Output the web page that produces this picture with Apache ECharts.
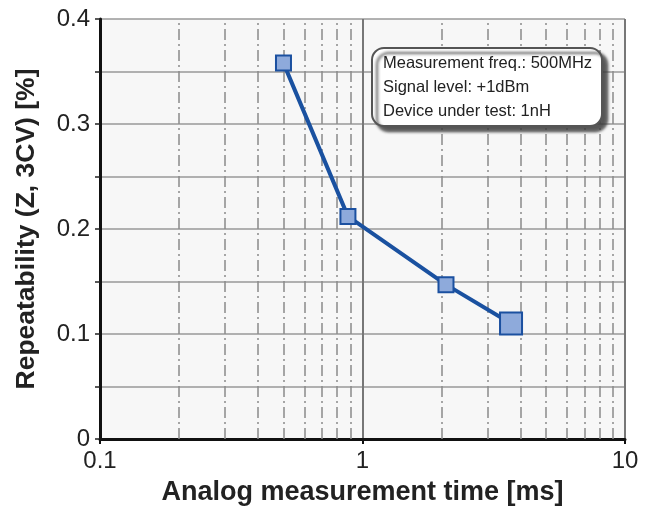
<!DOCTYPE html>
<html>
<head>
<meta charset="utf-8">
<script src="https://cdn.jsdelivr.net/npm/echarts@6/dist/echarts.min.js"></script>
<style>
  html, body { margin: 0; padding: 0; background: #fff; }
  #chart { width: 649px; height: 511px; }
</style>
</head>
<body>
<div id="chart"></div>
<script>
// measurement time [ms] vs repeatability [%]
const timeMs = [0.5, 0.88, 2.08, 3.68];
const repeatability = [0.358, 0.212, 0.147, 0.110];
const markerSizes = [15, 15, 15, 22];
// dash-dot minor grid positions on log axis
const minorX = [0.2, 0.3, 0.4, 0.5, 0.6, 0.7, 0.8, 0.9, 2, 3, 4, 5, 6, 7, 8, 9];
const noteLines = ['Measurement freq.: 500MHz', 'Signal level: +1dBm', 'Device under test: 1nH'];

const font = "'Liberation Sans', Arial, sans-serif";
const chart = echarts.init(document.getElementById('chart'));

const option = {
  animation: false,
  grid: { left: 100, right: 24, top: 19, bottom: 72, show: true, backgroundColor: '#f7f7f7', borderWidth: 0 },
  xAxis: {
    type: 'log',
    logBase: 10,
    min: 0.1,
    max: 10,
    name: 'Analog measurement time [ms]',
    nameLocation: 'middle',
    nameGap: 40,
    nameTextStyle: { fontFamily: font, fontSize: 27, fontWeight: 'bold', color: '#222' },
    axisLine: { show: true, onZero: false, lineStyle: { color: '#111', width: 3 } },
    axisTick: { show: true, length: 5, lineStyle: { color: '#111', width: 2 } },
    axisLabel: { fontFamily: font, fontSize: 24, color: '#222', margin: 10 },
    splitLine: { show: true, lineStyle: { color: '#777', width: 2 } }
  },
  yAxis: {
    type: 'value',
    min: 0,
    max: 0.4,
    interval: 0.05,
    name: 'Repeatability (Z, 3CV) [%]',
    nameLocation: 'middle',
    nameGap: 60,
    nameTextStyle: { fontFamily: font, fontSize: 26.5, fontWeight: 'bold', color: '#222' },
    axisLine: { show: true, lineStyle: { color: '#111', width: 3 } },
    axisTick: { show: true, length: 5, lineStyle: { color: '#222', width: 1.5 } },
    axisLabel: {
      fontFamily: font, fontSize: 24, color: '#222', margin: 10,
      formatter: function (v) {
        const r = Math.round(v * 100);
        if (r % 10 !== 0) return '';
        return r === 0 ? '0' : (r / 100).toString();
      }
    },
    splitLine: { show: true, lineStyle: { color: '#999', width: 1.5 } }
  },
  series: [
    {
      type: 'line',
      data: [],
      silent: true,
      markLine: {
        silent: true,
        symbol: ['none', 'none'],
        label: { show: false },
        lineStyle: { color: '#8a8a8a', width: 1.5, type: [11, 4, 2, 4] },
        data: minorX.map(v => ({ xAxis: v }))
      }
    },
    {
      type: 'line',
      data: timeMs.map((t, i) => [t, repeatability[i]]),
      symbol: 'rect',
      symbolSize: (val, p) => markerSizes[p.dataIndex],
      lineStyle: { color: '#1a51a0', width: 4 },
      itemStyle: { color: '#8eaadb', borderColor: '#1b50a0', borderWidth: 2 },
      z: 5
    }
  ],
  graphic: [
    {
      type: 'rect',
      shape: { x: 372, y: 48, width: 230, height: 78, r: 12 },
      style: {
        fill: '#fff', stroke: '#555', lineWidth: 2,
        shadowColor: 'rgba(60,60,60,0.85)', shadowBlur: 3, shadowOffsetX: 5, shadowOffsetY: 5
      },
      z: 10
    }
  ].concat(noteLines.map((t, i) => ({
    type: 'text',
    left: 383,
    top: 55 + i * 24,
    style: { text: t, fontFamily: font, fontSize: 16.5, fill: '#222' },
    z: 11
  })))
};

chart.setOption(option);
</script>
</body>
</html>
